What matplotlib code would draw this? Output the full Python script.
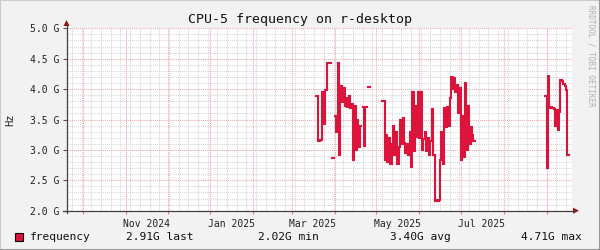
import numpy as np
import pandas as pd
import matplotlib
matplotlib.use("Agg")
import matplotlib.pyplot as plt
import matplotlib.dates as mdates
from matplotlib.patches import Rectangle, Polygon
from matplotlib.lines import Line2D

# ---------------- data (GHz, daily) ----------------
seg_a_start = "2025-03-18"
seg_a_values = [3.88, 3.88, 3.15, 3.16, 3.17, 3.95, 3.42, 3.98, 4.43, 4.43,
                4.43, np.nan, 2.86, np.nan, 3.55, 3.30, 4.43, 2.92, 4.05, 3.78,
                4.02, 3.72, 3.86, 3.70, 3.88, 3.69, 3.75, 2.84, 3.72, 3.00,
                3.50, 3.05, 3.40, np.nan, 3.70, 3.06, 3.70, np.nan, 4.03, np.nan]
seg_b_start = "2025-05-05"
seg_b_values = [3.80, 3.80, 2.84, 3.25, 2.80, 3.20, 2.76, 3.10, 3.40, 2.92,
                3.30, 2.76, 3.05, 3.50, 3.10, 3.52, 3.12, 2.95, 3.10, 2.92,
                3.30, 2.72, 3.96, 2.98, 3.72, 3.22, 3.96, 3.20, 3.95, 3.00,
                3.18, 3.30, 2.98, 3.20, 2.92, 3.15, 3.68, 2.92, 2.16, 2.17,
                2.16, 2.17, 2.84, 3.30, 2.76, 3.69, 3.38, 3.70, 3.40, 3.85,
                4.20, 4.00, 4.18, 3.96, 4.07, 3.60, 4.02, 2.84, 3.55, 2.88,
                4.10, 3.00, 3.73, 3.10, 3.38, 3.24, 3.14, np.nan]
seg_c_start = "2025-08-31"
seg_c_values = [3.89, 2.71, 4.21, 3.69, 3.70, 3.69, 3.68, 3.40, 3.66, 3.33,
                3.62, 4.15, 4.13, 4.08, 4.05, 3.99, 2.91, np.nan]

segments = [(seg_a_start, seg_a_values), (seg_b_start, seg_b_values),
            (seg_c_start, seg_c_values)]

x_start = "2024-09-19"
x_end = "2025-09-19"
y_min, y_max = 2.0, 5.0
y_major = [2.0, 2.5, 3.0, 3.5, 4.0, 4.5, 5.0]
month_labels = ["Nov 2024", "Jan 2025", "Mar 2025", "May 2025", "Jul 2025"]
label_months = ["2024-11-01", "2025-01-01", "2025-03-01", "2025-05-01", "2025-07-01"]

title = "CPU-5 frequency on r-desktop"
series_name = "frequency"
legend_stats = ["2.91G last", "2.02G min", "3.40G avg", "4.71G max"]

# ---------------- styling ----------------
W, H = 600, 250
BG = "#f2f2f2"
LINE_COLOR = "#dc143c"
MONO = "DejaVu Sans Mono"

fig = plt.figure(figsize=(W / 100, H / 100), dpi=100, facecolor=BG)

def fx(px):
    return px / W

def fy(py):
    return 1 - py / H

left_px, right_px, top_px, bot_px = 66.5, 571.5, 28.3, 210.7
ax = fig.add_axes([fx(left_px), fy(bot_px), fx(right_px - left_px), (bot_px - top_px) / H])
ax.set_facecolor("white")
for s in ax.spines.values():
    s.set_visible(False)

xs = pd.Timestamp(x_start)
xe = pd.Timestamp(x_end)
ax.set_xlim(xs, xe)
ax.set_ylim(y_min * 1e9, y_max * 1e9)

# grid
minor_col = "#d4d4d4"
major_col = "#f0a8a8"
dash = (0, (1, 1))
for v in np.arange(2.0, 5.001, 0.1):
    if min(abs(v - m) for m in y_major) < 1e-6:
        continue
    ax.axhline(v * 1e9, color=minor_col, lw=0.75, ls=dash, zorder=1)
for d in pd.date_range(xs, xe, freq="W-MON"):
    ax.axvline(d, color=minor_col, lw=0.75, ls=dash, zorder=1)
for v in y_major:
    ax.axhline(v * 1e9, color=major_col, lw=0.75, ls=dash, zorder=2)
for d in pd.date_range(xs, xe, freq="MS"):
    ax.axvline(d, color=major_col, lw=0.75, ls=dash, zorder=2)

# data
for start, vals in segments:
    dates = pd.date_range(start, periods=len(vals), freq="D")
    ax.plot(dates, np.array(vals, dtype=float) * 1e9, drawstyle="steps-post",
            color=LINE_COLOR, lw=1.5, solid_joinstyle="miter", zorder=5)

# y ticks
ax.set_yticks([v * 1e9 for v in y_major])
ax.set_yticklabels([f"{v:.1f} G" for v in y_major], fontfamily=MONO, fontsize=7, color="#222222")
ax.tick_params(axis="y", length=3, width=0.8, color="#555555", pad=2)
ax.set_xticks(pd.date_range(xs, xe, freq="MS"))
ax.set_xticklabels([])
ax.tick_params(axis="x", length=2.5, width=0.8, color="#e08080", direction="out")

# x labels at mid-month
for lab, m in zip(month_labels, label_months):
    d = pd.Timestamp(m) + pd.Timedelta(days=15)
    ax.text(d, -0.045, lab, transform=ax.get_xaxis_transform(), ha="center", va="top",
            fontfamily=MONO, fontsize=7, color="#222222")

# axes lines with arrows
axis_col = "#404040"
arrow_col = "#a01010"
fig.add_artist(Line2D([fx(left_px), fx(left_px)], [fy(bot_px + 2), fy(23)], color=axis_col, lw=0.9))
fig.add_artist(Line2D([fx(left_px - 4), fx(575)], [fy(bot_px), fy(bot_px)], color=axis_col, lw=0.9))
fig.add_artist(Polygon([[fx(left_px - 3), fy(26)], [fx(left_px + 3), fy(26)], [fx(left_px), fy(20)]],
                       closed=True, color=arrow_col, lw=0))
fig.add_artist(Polygon([[fx(573), fy(bot_px - 3)], [fx(573), fy(bot_px + 3)], [fx(579), fy(bot_px)]],
                       closed=True, color=arrow_col, lw=0))

# title, unit, watermark
fig.text(0.5, fy(19), title, ha="center", va="center", fontfamily=MONO, fontsize=9.5, color="#111111")
fig.text(fx(10), fy(119.5), "Hz", ha="center", va="center", rotation=90, fontfamily=MONO,
         fontsize=7.5, color="#222222")
fig.text(fx(591), fy(5), "RRDTOOL / TOBI OETIKER", ha="center", va="top", rotation=270,
         fontfamily=MONO, fontsize=5.5, color="#b0b0b0")

# legend
fig.add_artist(Rectangle((fx(14.5), fy(240.5)), fx(8), 8 / H, facecolor=LINE_COLOR,
                         edgecolor="black", lw=0.8))
ly = fy(236.5)
fig.text(fx(30), ly, series_name, ha="left", va="center", fontfamily=MONO, fontsize=8.1, color="#111111")
stat_x = [126, 258, 390, 521]
for sx, st in zip(stat_x, legend_stats):
    fig.text(fx(sx), ly, st, ha="left", va="center", fontfamily=MONO, fontsize=8.1, color="#111111")

# outer frame (3D look)
fig.add_artist(Line2D([0, 0, 1], [0, 1, 1], color="#cbcbcb", lw=1.5, transform=fig.transFigure))
fig.add_artist(Line2D([0, 1, 1], [0, 0, 1], color="#999999", lw=1.5, transform=fig.transFigure))

fig.savefig("out.png", dpi=100, facecolor=BG)
